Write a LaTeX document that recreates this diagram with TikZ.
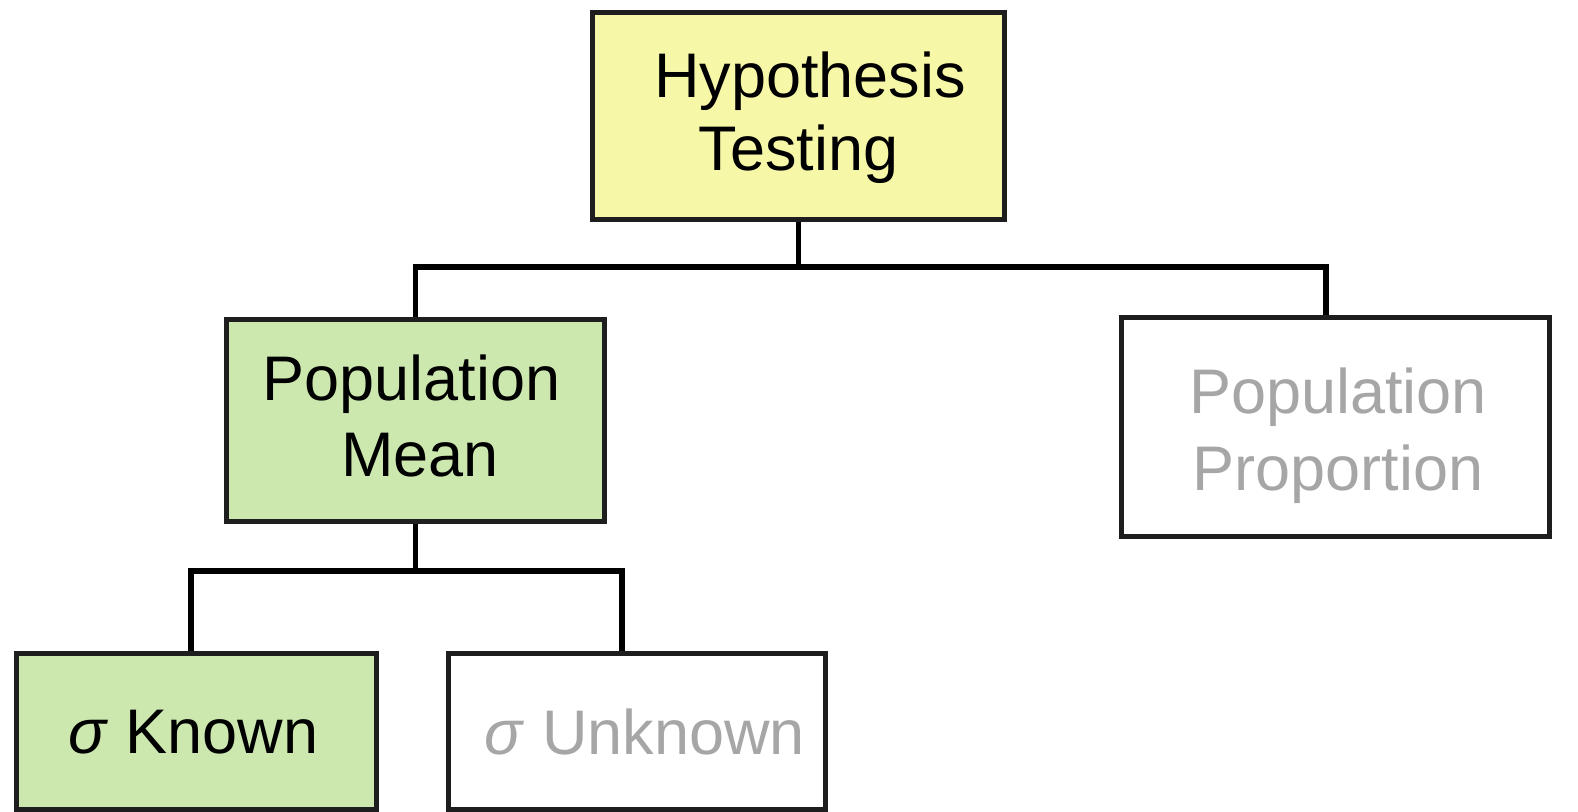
\documentclass[tikz,border=0pt]{standalone}
\usepackage{fontspec}
\setmainfont{Liberation Sans}
\definecolor{hypfill}{HTML}{F7F7A8}
\definecolor{meanfill}{HTML}{CCE8AF}
\definecolor{boxline}{HTML}{1E1E1E}
\definecolor{dimtext}{HTML}{A6A6A6}
\begin{document}
\begin{tikzpicture}[x=1pt,y=-1pt,
  box/.style={draw=boxline, line width=5pt, rectangle, inner sep=0pt},
  conn/.style={draw=black, line width=5.5pt},
  txt/.style={align=center, inner sep=0pt}]
\useasboundingbox (0,0) rectangle (1578,811);
% boxes
\node[box, fill=hypfill, minimum width=412pt, minimum height=207pt] (hyp) at (798.5,115.5) {};
\node[box, fill=meanfill, minimum width=378pt, minimum height=202pt] (pm) at (415.5,420) {};
\node[box, fill=white, minimum width=428pt, minimum height=219pt] (pp) at (1335,426.5) {};
\node[box, fill=meanfill, minimum width=360pt, minimum height=156pt] (sk) at (196,731) {};
\node[box, fill=white, minimum width=377pt, minimum height=156pt] (su) at (636.5,731) {};
% texts
\node[txt, font=\fontsize{63}{73}\selectfont] (hyptxt) at (810,117.3) {Hypothesis\\Testing\hspace*{23pt}};
\node[txt, font=\fontsize{63}{76.5}\selectfont] (pmtxt) at (420,415.9) {Population\hspace*{17pt}\\Mean};
\node[txt, font=\fontsize{63}{76.7}\selectfont, text=dimtext] (pptxt) at (1338,435.5) {Population\\Proportion};
\node[txt, font=\fontsize{63}{75}\selectfont] (sktxt) at (193.5,732) {\textit{σ} Known};
\node[txt, font=\fontsize{63}{75}\selectfont, text=dimtext] (sutxt) at (645,732) {\textit{σ} Unknown};
% connectors
\coordinate (j1) at (hyp.south |- 0,267);
\coordinate (j2) at (pm.south |- 0,571);
\draw[conn] (hyp.south) -- (j1);
\draw[conn] (pm.north) |- (j1) -| ([xshift=-9pt]pp.north);
\draw[conn] (pm.south) -- (j2);
\draw[conn] ([xshift=-5pt]sk.north) |- (j2) -| ([xshift=-14.5pt]su.north);
\end{tikzpicture}
\end{document}
